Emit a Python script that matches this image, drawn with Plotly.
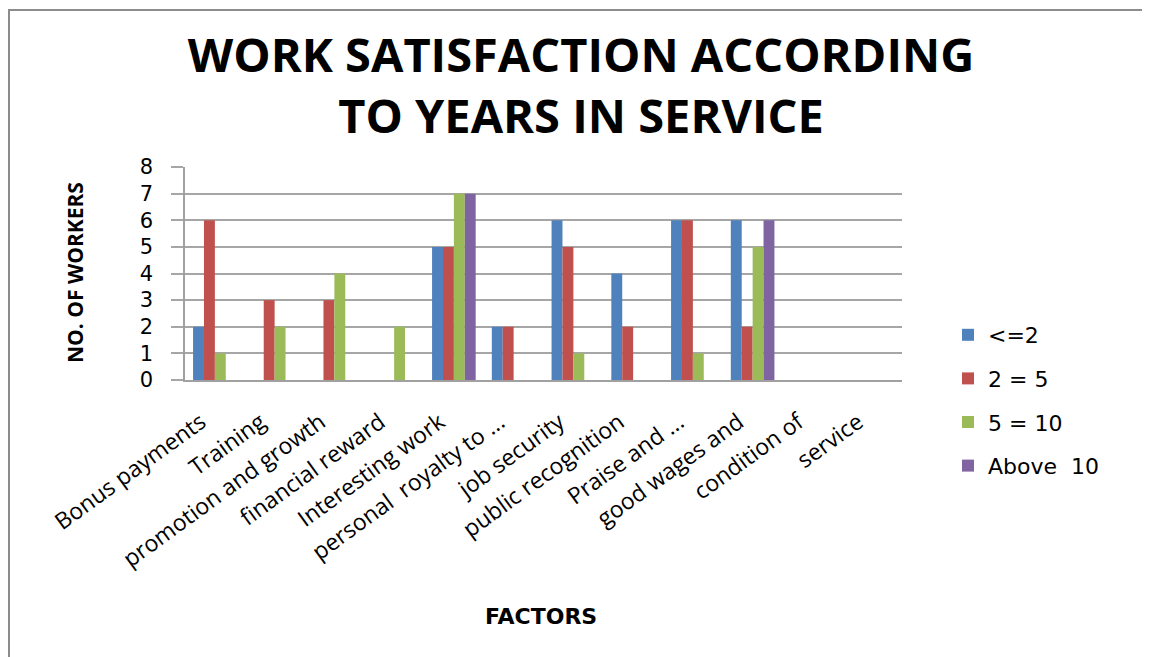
import plotly.graph_objects as go

categories = ["Bonus payments", "Training", "promotion and growth", "financial reward",
              "Interesting work", "personal  royalty to ...", "job security", "public recognition",
              "Praise and ...", "good wages and", "condition of", "service"]
series_names = ["<=2", "2 = 5", "5 = 10", "Above  10"]
le2 = [2, 0, 0, 0, 5, 2, 6, 4, 6, 6, 0, 0]
y2to5 = [6, 3, 3, 0, 5, 2, 5, 2, 6, 2, 0, 0]
y5to10 = [1, 2, 4, 2, 7, 0, 1, 0, 1, 5, 0, 0]
above10 = [0, 0, 0, 0, 7, 0, 0, 0, 0, 6, 0, 0]
colors = ["#4F81BD", "#C0504D", "#9BBB59", "#8064A2"]

OFF = 8  # page body margin
W, H = 1150, 657
L, R, T, B = 185 - OFF, 902 - OFF, 167 - OFF, 380 - OFF
pw, ph = R - L, B - T


def px(x):
    return (x - OFF - L) / pw


def py(y):
    return (B - (y - OFF)) / ph


fig = go.Figure()
for i, (name, vals) in enumerate(zip(series_names, [le2, y2to5, y5to10, above10])):
    fig.add_trace(go.Bar(x=categories, y=vals, name=name, marker_color=colors[i],
                         marker_line_width=0, legendgroup=str(i)))

fig.update_layout(
    width=W, height=H,
    margin=dict(l=L, r=W - R, t=T, b=H - B, autoexpand=False),
    paper_bgcolor="white", plot_bgcolor="white",
    barmode="group", bargap=0.27, bargroupgap=0,
    font=dict(family="DejaVu Sans", color="#000000"),
    title=dict(text="<b>WORK SATISFACTION ACCORDING<br>TO YEARS IN SERVICE</b>",
               x=(581 - OFF) / W, xanchor="center", y=1 - (72 - OFF) / H, yanchor="middle",
               font=dict(family="Open Sans", size=47, color="#000000")),
    legend=dict(x=px(948), xanchor="left", y=py(314), yanchor="top",
                font=dict(family="DejaVu Sans", size=22, color="#000000"),
                tracegroupgap=12, traceorder="grouped", itemwidth=30),
    showlegend=True,
)
fig.update_xaxes(
    tickangle=-36, tickfont=dict(family="Open Sans", size=23, color="#000000"),
    showline=True, linecolor="#A0A0A0", linewidth=1.5, ticks="", showgrid=False,
    range=[-0.5, 11.5], ticklabelstandoff=18, ticklabelshift=-14,
)
fig.update_yaxes(
    range=[0, 8], dtick=1, showgrid=True, gridcolor="#A6A6A6", gridwidth=1.5,
    showline=True, linecolor="#A0A0A0", linewidth=1.5, ticks="outside", ticklen=12,
    tickcolor="#A6A6A6", tickwidth=1.5, ticklabelstandoff=14,
    tickfont=dict(family="DejaVu Sans", size=21, color="#000000"), zeroline=False,
)
fig.add_annotation(text="<b>NO. OF WORKERS</b>", xref="paper", yref="paper",
                   x=px(75), y=py(272), textangle=-90, showarrow=False,
                   xanchor="center", yanchor="middle",
                   font=dict(family="Open Sans", size=21, color="#000000"))
fig.add_annotation(text="<b>FACTORS</b>", xref="paper", yref="paper",
                   x=px(541), y=py(616), showarrow=False,
                   xanchor="center", yanchor="middle",
                   font=dict(family="DejaVu Sans", size=22, color="#000000"))
fig.add_shape(type="rect", xref="paper", yref="paper",
              x0=px(9), x1=px(1147), y0=py(670), y1=py(10),
              line=dict(color="#8C8C8C", width=2), fillcolor="rgba(0,0,0,0)", layer="below")

fig.write_html("out.html")
